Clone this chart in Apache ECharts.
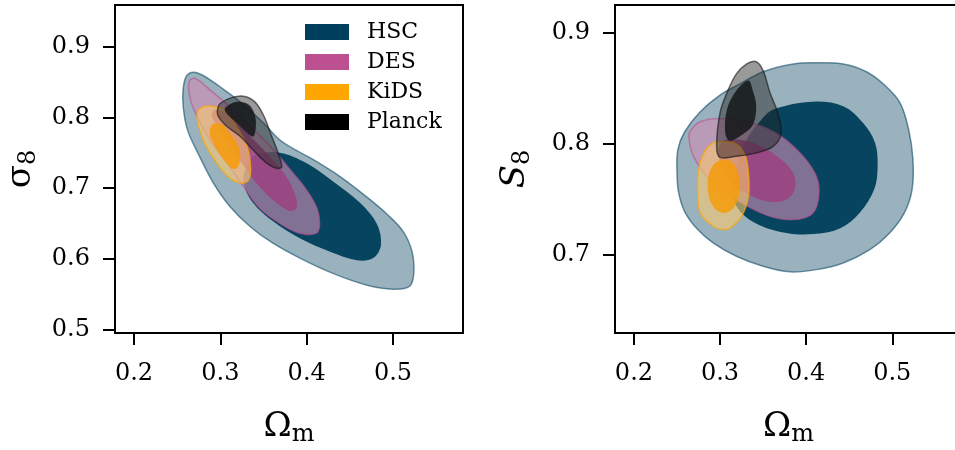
<!DOCTYPE html>
<html>
<head>
<meta charset="utf-8">
<script src="https://cdn.jsdelivr.net/npm/echarts@6/dist/echarts.min.js"></script>
<style>html,body{margin:0;padding:0;background:#fff}#main{width:955px;height:450px}</style>
</head>
<body>
<div id="main"></div>
<script>
// contour outlines
// left panel: [Omega_m, sigma_8]
var hscOuterL = [[0.261,0.859],[0.269,0.864],[0.279,0.860],[0.300,0.843],[0.323,0.822],[0.350,0.792],[0.371,0.766],[0.408,0.740],[0.439,0.716],[0.469,0.688],[0.494,0.662],[0.512,0.638],[0.522,0.610],[0.524,0.579],[0.519,0.561],[0.500,0.557],[0.469,0.563],[0.431,0.579],[0.392,0.601],[0.361,0.622],[0.335,0.645],[0.311,0.674],[0.292,0.707],[0.275,0.747],[0.262,0.782],[0.257,0.815],[0.257,0.841]];
var hscInnerL = [[0.342,0.747],[0.369,0.750],[0.400,0.735],[0.431,0.709],[0.462,0.679],[0.481,0.650],[0.486,0.620],[0.477,0.601],[0.458,0.598],[0.427,0.610],[0.392,0.629],[0.361,0.653],[0.338,0.679],[0.327,0.707],[0.331,0.733]];
var desOuterL = [[0.264,0.851],[0.271,0.855],[0.288,0.839],[0.311,0.815],[0.335,0.787],[0.358,0.759],[0.381,0.726],[0.400,0.697],[0.412,0.671],[0.415,0.648],[0.411,0.636],[0.392,0.636],[0.369,0.650],[0.346,0.671],[0.327,0.702],[0.308,0.735],[0.288,0.768],[0.273,0.801],[0.265,0.827]];
var desInnerL = [[0.294,0.811],[0.308,0.806],[0.331,0.778],[0.354,0.749],[0.375,0.719],[0.387,0.690],[0.388,0.671],[0.379,0.668],[0.361,0.683],[0.342,0.707],[0.325,0.735],[0.309,0.763],[0.296,0.789],[0.290,0.803]];
var kidsOuterL = [[0.277,0.813],[0.288,0.816],[0.304,0.811],[0.319,0.787],[0.331,0.759],[0.335,0.730],[0.333,0.712],[0.325,0.707],[0.311,0.714],[0.296,0.735],[0.282,0.763],[0.275,0.787],[0.273,0.803]];
var kidsInnerL = [[0.290,0.789],[0.300,0.791],[0.311,0.778],[0.321,0.759],[0.323,0.740],[0.319,0.728],[0.313,0.728],[0.304,0.740],[0.294,0.759],[0.288,0.775]];
var planckOuterL = [[0.300,0.820],[0.313,0.828],[0.327,0.830],[0.340,0.822],[0.350,0.803],[0.358,0.778],[0.367,0.749],[0.371,0.730],[0.365,0.728],[0.354,0.735],[0.338,0.754],[0.323,0.773],[0.306,0.789],[0.297,0.803],[0.297,0.813]];
var planckInnerL = [[0.308,0.816],[0.319,0.822],[0.333,0.818],[0.340,0.803],[0.341,0.785],[0.338,0.773],[0.331,0.778],[0.319,0.792],[0.309,0.803],[0.305,0.811]];

// right panel: [Omega_m, S_8]
var hscOuterR = [[0.251,0.795],[0.259,0.811],[0.277,0.829],[0.300,0.844],[0.323,0.854],[0.350,0.865],[0.385,0.872],[0.412,0.873],[0.443,0.872],[0.470,0.865],[0.491,0.853],[0.509,0.837],[0.519,0.813],[0.524,0.786],[0.523,0.759],[0.514,0.738],[0.497,0.720],[0.474,0.705],[0.443,0.693],[0.412,0.687],[0.381,0.685],[0.350,0.690],[0.319,0.699],[0.292,0.711],[0.273,0.724],[0.259,0.739],[0.252,0.756],[0.250,0.774]];
var hscInnerR = [[0.362,0.831],[0.408,0.838],[0.443,0.834],[0.466,0.819],[0.480,0.801],[0.483,0.780],[0.479,0.759],[0.462,0.738],[0.439,0.724],[0.408,0.719],[0.377,0.720],[0.346,0.727],[0.325,0.738],[0.315,0.753],[0.319,0.780],[0.331,0.804],[0.346,0.820]];
var desOuterR = [[0.265,0.811],[0.277,0.820],[0.300,0.823],[0.331,0.820],[0.362,0.811],[0.389,0.795],[0.410,0.774],[0.415,0.757],[0.408,0.738],[0.385,0.732],[0.354,0.736],[0.319,0.750],[0.288,0.768],[0.269,0.789],[0.264,0.804]];
var desInnerR = [[0.308,0.804],[0.338,0.801],[0.366,0.789],[0.385,0.774],[0.387,0.760],[0.377,0.750],[0.358,0.748],[0.335,0.754],[0.311,0.766],[0.300,0.783],[0.299,0.798]];
var kidsOuterR = [[0.304,0.802],[0.319,0.800],[0.329,0.790],[0.333,0.774],[0.333,0.753],[0.325,0.735],[0.311,0.724],[0.304,0.723],[0.292,0.726],[0.277,0.738],[0.274,0.756],[0.275,0.777],[0.282,0.793],[0.292,0.801]];
var kidsInnerR = [[0.304,0.786],[0.315,0.783],[0.322,0.771],[0.323,0.759],[0.318,0.745],[0.306,0.738],[0.294,0.742],[0.287,0.753],[0.286,0.768],[0.292,0.781]];
var planckOuterR = [[0.331,0.872],[0.342,0.874],[0.350,0.866],[0.358,0.846],[0.367,0.828],[0.371,0.810],[0.362,0.798],[0.342,0.792],[0.319,0.789],[0.300,0.788],[0.296,0.798],[0.300,0.828],[0.308,0.846],[0.319,0.863]];
var planckInnerR = [[0.333,0.857],[0.338,0.848],[0.342,0.834],[0.338,0.817],[0.325,0.808],[0.311,0.803],[0.306,0.810],[0.308,0.831],[0.319,0.848]];

var xTicks = [0.2, 0.3, 0.4, 0.5];
var sigma8Ticks = [0.5, 0.6, 0.7, 0.8, 0.9];
var s8Ticks = [0.7, 0.8, 0.9];

var FONT = 'DejaVu Serif';

var dom = document.getElementById('main');
var myChart = echarts.init(dom, null, { renderer: 'canvas' });

// one filled contour = one custom series, drawn as a smoothed polygon
function contour(name, pts, idx, fill, stroke, color) {
    return {
        type: 'custom',
        name: name,
        xAxisIndex: idx,
        yAxisIndex: idx,
        data: pts,
        silent: true,
        animation: false,
        itemStyle: { color: color },
        renderItem: function (params, api) {
            if (params.dataIndex !== 0) return;
            var p = pts.map(function (d) { return api.coord(d); });
            return {
                type: 'polygon',
                shape: { points: p, smooth: 0.35 },
                style: {
                    fill: fill,
                    stroke: stroke || null,
                    lineWidth: stroke ? 1.5 : 0
                }
            };
        }
    };
}

function panel(idx, h, d, k, p) {
    return [
        contour('HSC', h[0], idx, 'rgba(0,63,92,0.4)', 'rgba(0,63,92,0.55)', '#003f5c'),
        contour('HSC', h[1], idx, 'rgba(0,63,92,0.96)', null, '#003f5c'),
        contour('DES', d[0], idx, 'rgba(205,140,180,0.62)', 'rgba(188,80,144,0.6)', '#bc5090'),
        contour('DES', d[1], idx, 'rgba(160,60,125,0.75)', null, '#bc5090'),
        contour('KiDS', k[0], idx, 'rgba(252,200,110,0.6)', 'rgba(255,166,0,0.7)', '#ffa600'),
        contour('KiDS', k[1], idx, 'rgba(245,155,10,0.85)', null, '#ffa600'),
        contour('Planck', p[0], idx, 'rgba(30,30,30,0.45)', 'rgba(20,20,20,0.6)', '#000000'),
        contour('Planck', p[1], idx, 'rgba(20,22,25,0.85)', null, '#000000')
    ];
}

var nameRich = {
    a: { fontFamily: FONT, fontSize: 34, color: '#000' },
    i: { fontFamily: FONT, fontSize: 34, fontStyle: 'italic', color: '#000' },
    b: { fontFamily: FONT, fontSize: 24, color: '#000', padding: [16, 0, 0, 0] }
};

function xAxis(idx) {
    return {
        type: 'value', gridIndex: idx, min: 0.178, max: 0.581,
        name: '{a|Ω}{b|m}', nameLocation: 'middle', nameGap: 74,
        nameTextStyle: { rich: nameRich },
        splitLine: { show: false },
        axisLine: { show: false },
        axisTick: { customValues: xTicks, length: 12, lineStyle: { color: '#000', width: 2 } },
        axisLabel: { customValues: xTicks, margin: 29, fontFamily: FONT, fontSize: 24, color: '#000',
            formatter: function (v) { return v.toFixed(1); } }
    };
}

function yAxis(idx, min, max, ticks, name, gap) {
    return {
        type: 'value', gridIndex: idx, min: min, max: max,
        name: name, nameLocation: 'middle', nameGap: gap,
        nameTextStyle: { rich: nameRich },
        splitLine: { show: false },
        axisLine: { show: false },
        axisTick: { customValues: ticks, length: 12, lineStyle: { color: '#000', width: 2 } },
        axisLabel: { customValues: ticks, margin: 25, fontFamily: FONT, fontSize: 24, color: '#000',
            formatter: function (v) { return v.toFixed(1); } }
    };
}

var option = {
    backgroundColor: '#fff',
    animation: false,
    grid: [
        { left: 115, top: 5, width: 348, height: 328, outerBoundsMode: 'none', show: true, borderColor: '#000', borderWidth: 2 },
        { left: 615, top: 5, width: 347, height: 328, outerBoundsMode: 'none', show: true, borderColor: '#000', borderWidth: 2 }
    ],
    legend: {
        left: 305, top: 21, padding: 0, orient: 'vertical', icon: 'rect',
        itemWidth: 44, itemHeight: 16, itemGap: 8, selectedMode: false,
        textStyle: { fontFamily: FONT, fontSize: 22, color: '#000', padding: [0, 0, 0, 13] },
        data: [
            { name: 'HSC', itemStyle: { color: '#003f5c' } },
            { name: 'DES', itemStyle: { color: '#bc5090' } },
            { name: 'KiDS', itemStyle: { color: '#ffa600' } },
            { name: 'Planck', itemStyle: { color: '#000000' } }
        ]
    },
    xAxis: [xAxis(0), xAxis(1)],
    yAxis: [
        yAxis(0, 0.495, 0.959, sigma8Ticks, '{a|σ}{b|8}', 74),
        yAxis(1, 0.63, 0.925, s8Ticks, '{i|S}{b|8}', 80)
    ],
    series: panel(0, [hscOuterL, hscInnerL], [desOuterL, desInnerL], [kidsOuterL, kidsInnerL], [planckOuterL, planckInnerL])
        .concat(panel(1, [hscOuterR, hscInnerR], [desOuterR, desInnerR], [kidsOuterR, kidsInnerR], [planckOuterR, planckInnerR]))
};

myChart.setOption(option);
window.addEventListener('resize', myChart.resize);
</script>
</body>
</html>
